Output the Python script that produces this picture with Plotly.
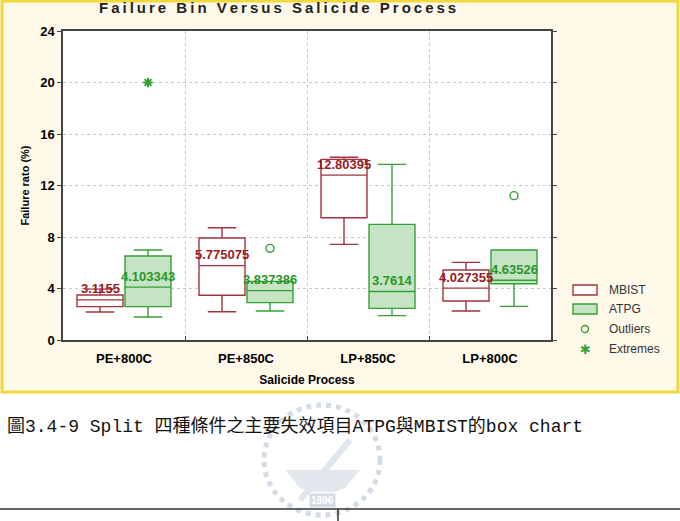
import plotly.graph_objects as go

categories = ["PE+800C", "PE+850C", "LP+850C", "LP+800C"]

mbist_lower = [2.17, 2.20, 7.43, 2.25]
mbist_q1 = [2.59, 3.47, 9.50, 3.03]
mbist_median = [3.1155, 5.775075, 12.80395, 4.027355]
mbist_q3 = [3.50, 7.92, 14.03, 5.44]
mbist_upper = [3.95, 8.72, 14.19, 6.03]
mbist_labels = ["3.1155", "5.775075", "12.80395", "4.027355"]

atpg_lower = [1.79, 2.25, 1.89, 2.61]
atpg_q1 = [2.59, 2.90, 2.46, 4.37]
atpg_median = [4.103343, 3.837386, 3.7614, 4.63526]
atpg_q3 = [6.52, 4.55, 8.98, 6.99]
atpg_upper = [6.99, 4.55, 13.64, 6.99]
atpg_labels = ["4.103343", "3.837386", "3.7614", "4.63526"]

outlier_cat = [1, 3]
outlier_val = [7.12, 11.21]
extreme_cat = [0]
extreme_val = [20.0]

y_ticks = [0, 4, 8, 12, 16, 20, 24]
legend_names = ["MBIST", "ATPG", "Outliers", "Extremes"]
title_text = "Failure Bin Versus Salicide Process"
caption_text = "圖3.4-9 Split 四種條件之主要失效項目ATPG與MBIST的box chart"
watermark_text = "1896"

# style
OFF = 24 / 122
BW = 46 / 122
RED = "#a0353d"
RED_TXT = "#9a1a1e"
GREEN = "#35a035"
GREEN_TXT = "#2a962a"
GREEN_FILL = "#c4e4c4"
WM = "#d3dbe5"
FONT = "Liberation Sans, Arial, sans-serif"

W, H = 680, 521
L, R, T, B = 63, 129, 31, 181
PW, PH = W - L - R, H - T - B


def px(x):
    return (x - L) / PW


def py(y):
    return (H - B - y) / PH


idx = list(range(len(categories)))

fig = go.Figure()
fig.add_trace(go.Box(
    name="MBIST", x=[i - OFF for i in idx],
    q1=mbist_q1, median=mbist_median, q3=mbist_q3,
    lowerfence=mbist_lower, upperfence=mbist_upper,
    width=BW, whiskerwidth=0.62,
    line=dict(color=RED, width=1.4), fillcolor="white",
    boxpoints=False, showlegend=False,
))
fig.add_trace(go.Box(
    name="ATPG", x=[i + OFF for i in idx],
    q1=atpg_q1, median=atpg_median, q3=atpg_q3,
    lowerfence=atpg_lower, upperfence=atpg_upper,
    width=BW, whiskerwidth=0.62,
    line=dict(color=GREEN, width=1.4), fillcolor=GREEN_FILL,
    boxpoints=False, showlegend=False,
))
fig.add_trace(go.Scatter(
    name="Outliers", x=[c + OFF for c in outlier_cat], y=outlier_val,
    mode="markers", showlegend=False,
    marker=dict(symbol="circle-open", size=8, color=GREEN, line=dict(width=1.4)),
))
fig.add_trace(go.Scatter(
    name="Extremes", x=[c + OFF for c in extreme_cat], y=extreme_val,
    mode="markers", showlegend=False,
    marker=dict(symbol="asterisk-open", size=8, color=GREEN, line=dict(width=2, color=GREEN)),
))

annotations = []
for i in idx:
    annotations.append(dict(x=i - OFF, y=mbist_median[i], text=f"<b>{mbist_labels[i]}</b>",
                            showarrow=False, yshift=11, xref="x", yref="y",
                            font=dict(family=FONT, size=13, color=RED_TXT)))
    annotations.append(dict(x=i + OFF, y=atpg_median[i], text=f"<b>{atpg_labels[i]}</b>",
                            showarrow=False, yshift=11, xref="x", yref="y",
                            font=dict(family=FONT, size=13, color=GREEN_TXT)))

spaced_title = "\u2009".join(title_text)
annotations.append(dict(x=px(277), y=py(7), xref="paper", yref="paper", showarrow=False,
                        xanchor="center", yanchor="middle",
                        text=f"<b>{spaced_title}</b>",
                        font=dict(family=FONT, size=15, color="#222222")))

# faint watermark (drawn before caption)
annotations.append(dict(x=px(322), y=py(500), xref="paper", yref="paper", showarrow=False,
                        xanchor="center", yanchor="middle", text=f"<b>{watermark_text}</b>",
                        bgcolor=WM, borderpad=1,
                        font=dict(family=FONT, size=10, color="white")))

annotations.append(dict(x=px(5), y=py(426), xref="paper", yref="paper", showarrow=False,
                        xanchor="left", yanchor="middle",
                        text=caption_text,
                        font=dict(family="Liberation Mono, Noto Sans CJK TC", size=18, color="#111111")))

# manual legend
leg_y = [290, 309, 329, 349]
for name, ly in zip(legend_names, leg_y):
    annotations.append(dict(x=px(607), y=py(ly), xref="paper", yref="paper", showarrow=False,
                            xanchor="left", yanchor="middle", text=name,
                            font=dict(family=FONT, size=12, color="#333333")))
annotations.append(dict(x=px(585), y=py(leg_y[3]), xref="paper", yref="paper", showarrow=False,
                        xanchor="center", yanchor="middle", text="<b>✱</b>",
                        font=dict(family="DejaVu Sans", size=13, color=GREEN)))

shapes = [
    dict(type="rect", xref="paper", yref="paper", x0=px(2), x1=px(678), y0=py(392), y1=py(1),
         fillcolor="#fff9ea", line=dict(color="#f2d83c", width=3), layer="below"),
    dict(type="rect", xref="paper", yref="paper", x0=0, x1=1, y0=0, y1=1,
         fillcolor="white", line=dict(width=0), layer="below"),
    # watermark ring and body
    dict(type="circle", xref="paper", yref="paper", x0=px(264), x1=px(380), y0=py(515), y1=py(405),
         fillcolor="rgba(0,0,0,0)", line=dict(color=WM, width=5, dash="dot"), layer="below"),
    dict(type="path", xref="paper", yref="paper", layer="below",
         path=f"M {px(285)},{py(470)} L {px(360)},{py(470)} L {px(345)},{py(488)} "
              f"L {px(335)},{py(492)} L {px(310)},{py(492)} L {px(300)},{py(488)} Z",
         fillcolor="#e3e8ef", line=dict(width=0)),
    dict(type="line", xref="paper", yref="paper", x0=px(300), x1=px(350), y0=py(500), y1=py(440),
         line=dict(color="#e0e6ee", width=6), layer="below"),
    dict(type="line", xref="paper", yref="paper", x0=px(0), x1=px(680), y0=py(509), y1=py(509),
         line=dict(color="#333333", width=1.5)),
    dict(type="line", xref="paper", yref="paper", x0=px(338), x1=px(338), y0=py(509), y1=py(521),
         line=dict(color="#333333", width=1.5)),
    # legend icons
    dict(type="rect", xref="paper", yref="paper", x0=px(573), x1=px(597),
         y0=py(leg_y[0] + 5), y1=py(leg_y[0] - 5),
         fillcolor="white", line=dict(color=RED, width=1.4)),
    dict(type="rect", xref="paper", yref="paper", x0=px(573), x1=px(597),
         y0=py(leg_y[1] + 5), y1=py(leg_y[1] - 5),
         fillcolor=GREEN_FILL, line=dict(color=GREEN, width=1.4)),
    dict(type="circle", xref="paper", yref="paper", x0=px(581.5), x1=px(588.5),
         y0=py(leg_y[2] + 3.5), y1=py(leg_y[2] - 3.5),
         fillcolor="rgba(0,0,0,0)", line=dict(color=GREEN, width=1.3)),
]

fig.update_layout(
    width=W, height=H,
    margin=dict(l=L, r=R, t=T, b=B),
    paper_bgcolor="white", plot_bgcolor="white",
    showlegend=False,
    annotations=annotations, shapes=shapes,
    font=dict(family=FONT),
)
fig.update_xaxes(
    range=[-0.5, 3.5], tickvals=idx, ticktext=categories,
    showgrid=False, ticks="", ticklabelstandoff=6,
    tickfont=dict(family=FONT, size=13, color="black", weight="bold"),
    showline=True, linecolor="#444444", linewidth=1.5, mirror=True,
    minor=dict(tickvals=[0.5, 1.5, 2.5], showgrid=True, gridcolor="#c8c8c8",
               griddash="dot", gridwidth=1, ticks="inside", ticklen=4, tickcolor="#444444"),
    title=dict(text="<b>Salicide Process</b>", standoff=10,
               font=dict(family=FONT, size=12, color="black")),
    zeroline=False,
)
fig.update_yaxes(
    range=[0, 24], tickvals=y_ticks,
    showgrid=True, gridcolor="#c8c8c8", griddash="dot", gridwidth=1,
    ticks="outside", ticklen=4, tickcolor="#444444",
    tickfont=dict(family=FONT, size=13, color="black", weight="bold"),
    showline=True, linecolor="#444444", linewidth=1.5, mirror="ticks",
    title=dict(text="<b>Failure rato (%)</b>", standoff=8,
               font=dict(family=FONT, size=11, color="black")),
    zeroline=False,
)

fig.write_html("out.html")
